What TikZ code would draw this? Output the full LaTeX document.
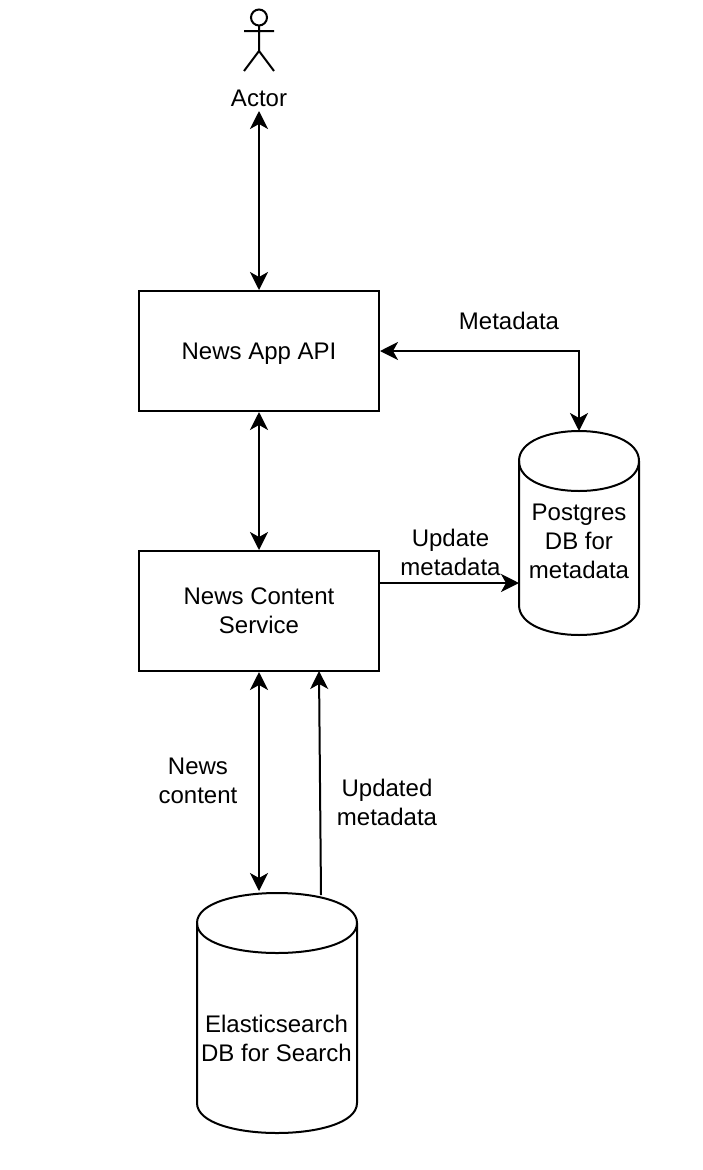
\documentclass[tikz,border=0pt]{standalone}
\usepackage{fontspec}
\setmainfont{Liberation Sans}
\usetikzlibrary{arrows.meta}
\tikzset{
  x=1pt,y=-1pt,
  box/.style={draw=black,line width=2pt,minimum width=240pt,minimum height=120pt,inner sep=0pt,align=center,font=\fontsize{24}{29}\selectfont},
  txt/.style={inner sep=0pt,align=center,font=\fontsize{24}{29}\selectfont},
  cylslot/.style={inner sep=0pt,minimum width=#1,align=center,font=\fontsize{24}{29}\selectfont},
  line/.style={draw=black,line width=2pt},
  conn/.style={line,-{Stealth[length=18pt,width=18pt,inset=5pt]}},
  bi/.style={line,{Stealth[length=18pt,width=18pt,inset=5pt]}-{Stealth[length=18pt,width=18pt,inset=5pt]}},
}
\newcommand{\cyl}[5]{% x, y, w, h, dy
  \draw[line,line join=round,fill=white] (#1,#2+#5)
    .. controls (#1,#2-#5/3) and (#1+#3,#2-#5/3) .. (#1+#3,#2+#5)
    -- (#1+#3,#2+#4-#5)
    .. controls (#1+#3,#2+#4+#5/3) and (#1,#2+#4+#5/3) .. (#1,#2+#4-#5)
    -- cycle;
  \draw[line] (#1,#2+#5)
    .. controls (#1,#2+#5+#5*4/3) and (#1+#3,#2+#5+#5*4/3) .. (#1+#3,#2+#5);
}
\begin{document}
\begin{tikzpicture}
\useasboundingbox (0,0) rectangle (702,1170);
% actor
\draw[line] (259,17.5) circle[radius=8];
\draw[line] (259,25.5) -- (259,51) (244,31) -- (274,31) (244,71) -- (259,51) -- (274,71);
\node[txt] (actor) at (259,98.5) {Actor};
\coordinate (actorport) at (259,111);
% boxes
\node[box] (api) at (259,351) {\raisebox{-8pt}[0pt][0pt]{News App API}};
\node[box,text depth=0pt] (svc) at (259,611) {News Content\\Service};
% cylinders
\cyl{519}{431}{120}{204}{30}
\cyl{197}{893}{160}{240}{30}
\node[cylslot=120pt] (pg) at (579,541.5) {Postgres\\DB for\\metadata};
\node[cylslot=160pt] (es) at (276.5,1038) {Elasticsearch\\DB for Search};
\coordinate (pgtop) at (579,431);
\coordinate (pgleft) at (519,583);
\coordinate (estopa) at (259,891);
\coordinate (estopb) at (321,895);
\coordinate (svcout) at (379,583);
\coordinate (svcin) at (319,671);
% connectors
\draw[bi] (actorport) -- (api.north);
\draw[bi] (api.south) -- (svc.north);
\draw[bi] (api.east) -- (579,351) -- (pgtop);
\draw[conn] (svcout) -- (pgleft);
\draw[bi] (svc.south) -- (estopa);
\draw[conn] (estopb) -- (svcin);
% labels
\node[txt] (l1) at (509,320.5) {Metadata};
\node[txt] (l2) at (450.5,552) {Update\\metadata};
\node[txt] (l3) at (198,781) {News\\content};
\node[txt] (l4) at (387,802) {Updated\\metadata};
\end{tikzpicture}
\end{document}
